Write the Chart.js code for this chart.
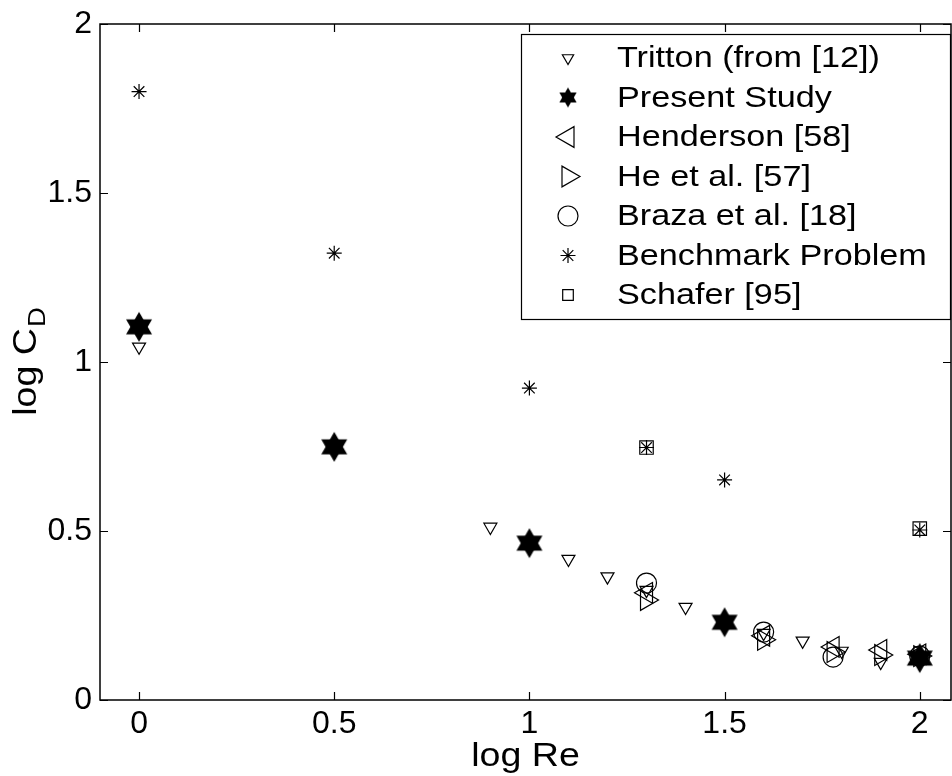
<!DOCTYPE html>
<html>
<head>
<meta charset="utf-8">
<script src="https://cdn.jsdelivr.net/npm/chart.js@4/dist/chart.umd.min.js"></script>
<style>
  html, body { margin: 0; padding: 0; background: #fff; }
  canvas { display: block; }
</style>
</head>
<body>
<canvas id="cd-chart" width="952" height="776"></canvas>
<script>
// data (log Re, log CD)
const trittonX = [0, 0.9, 1.1, 1.2, 1.3, 1.4, 1.6, 1.7, 1.8, 1.9]
const trittonY = [1.045, 0.512, 0.417, 0.365, 0.325, 0.275, 0.198, 0.175, 0.145, 0.112]

const presentX = [0, 0.5, 1, 1.5, 2]
const presentY = [1.104, 0.749, 0.464, 0.23, 0.124]

const hendersonX = [1.3, 1.6, 1.778, 1.9, 2]
const hendersonY = [0.317, 0.19, 0.157, 0.148, 0.135]

const heX = [1.3, 1.6, 1.778, 1.9, 2]
const heY = [0.296, 0.178, 0.142, 0.133, 0.13]

const brazaX = [1.3, 1.6, 1.778, 2]
const brazaY = [0.346, 0.201, 0.127, 0.13]

const benchmarkX = [0, 0.5, 1, 1.3, 1.5, 2]
const benchmarkY = [1.8, 1.322, 0.923, 0.747, 0.651, 0.503]

const schaferX = [1.3, 2]
const schaferY = [0.747, 0.507]

const xTicks = [0, 0.5, 1, 1.5, 2]
const yTicks = [0, 0.5, 1, 1.5, 2]

const FONT = "'Liberation Sans', Arial, Helvetica, sans-serif"
const WIDEN = 1.14 // the scanned lettering is wider than Liberation Sans

// filled six pointed star, drawn into a small canvas to use as pointStyle
function hexagram(r) {
	const c = document.createElement('canvas')
	const w = Math.ceil(r * 2 + 2)
	c.width = w
	c.height = w
	const g = c.getContext('2d')
	g.fillStyle = '#000'
	for (let k = 0; k < 2; k++) {
		g.beginPath()
		for (let i = 0; i < 3; i++) {
			const a = (k * Math.PI) / 3 + (i * 2 * Math.PI) / 3 - Math.PI / 2
			const px = w / 2 + r * Math.cos(a)
			const py = w / 2 + r * Math.sin(a)
			if (i === 0) g.moveTo(px, py)
			else g.lineTo(px, py)
		}
		g.closePath()
		g.fill()
	}
	return c
}
const starBig = hexagram(15)
const starSmall = hexagram(10)

function pts(xs, ys) {
	return xs.map((x, i) => ({ x: x, y: ys[i] }))
}

const hollow = 'rgba(0,0,0,0)'

const series = [
	{ label: 'Tritton (from [12])', data: pts(trittonX, trittonY), pointStyle: 'triangle', rotation: 180, pointRadius: 7.5, legendRadius: 6.5 },
	{ label: 'Present Study', data: pts(presentX, presentY), pointStyle: starBig, rotation: 0, pointRadius: 15, legendStyle: starSmall, order: 0 },
	{ label: 'Henderson [58]', data: pts(hendersonX, hendersonY), pointStyle: 'triangle', rotation: 270, pointRadius: 12, legendRadius: 12 },
	{ label: 'He et al. [57]', data: pts(heX, heY), pointStyle: 'triangle', rotation: 90, pointRadius: 12, legendRadius: 12 },
	{ label: 'Braza et al. [18]', data: pts(brazaX, brazaY), pointStyle: 'circle', rotation: 0, pointRadius: 10, legendRadius: 10 },
	{ label: 'Benchmark Problem', data: pts(benchmarkX, benchmarkY), pointStyle: 'star', rotation: 0, pointRadius: 7.5, legendRadius: 7.5 },
	{ label: 'Schafer [95]', data: pts(schaferX, schaferY), pointStyle: 'rect', rotation: 0, pointRadius: 9.5, legendRadius: 7.5 },
]

// text stretched sideways a little to match the scan
function wideText(ctx, text, x, y, align) {
	const w = ctx.measureText(text).width * WIDEN
	let x0 = x
	if (align === 'center') x0 = x - w / 2
	ctx.save()
	ctx.translate(x0, y)
	ctx.scale(WIDEN, 1)
	ctx.textAlign = 'left'
	ctx.fillText(text, 0, 0)
	ctx.restore()
	return w
}

// box, inward ticks, axis titles and the legend
const framePlugin = {
	id: 'frame',
	afterDraw(chart) {
		const { ctx, chartArea: a, scales } = chart
		ctx.save()
		ctx.strokeStyle = '#000'
		ctx.lineWidth = 1.5
		ctx.strokeRect(a.left, a.top, a.right - a.left, a.bottom - a.top)

		ctx.lineWidth = 1.2
		ctx.beginPath()
		xTicks.forEach((v) => {
			const px = Math.round(scales.x.getPixelForValue(v)) + 0.5
			ctx.moveTo(px, a.bottom)
			ctx.lineTo(px, a.bottom - 8)
			ctx.moveTo(px, a.top)
			ctx.lineTo(px, a.top + 8)
		})
		yTicks.forEach((v) => {
			const py = Math.round(scales.y.getPixelForValue(v)) + 0.5
			ctx.moveTo(a.left, py)
			ctx.lineTo(a.left + 8, py)
			ctx.moveTo(a.right, py)
			ctx.lineTo(a.right - 8, py)
		})
		ctx.stroke()

		ctx.fillStyle = '#000'
		ctx.textBaseline = 'alphabetic'

		// x axis title
		ctx.font = '33px ' + FONT
		wideText(ctx, 'log Re', (a.left + a.right) / 2, 766, 'center')

		// y axis title: log C with subscript D
		ctx.save()
		ctx.translate(36, (a.top + a.bottom) / 2)
		ctx.rotate(-Math.PI / 2)
		ctx.font = '33px ' + FONT
		const wMain = ctx.measureText('log C').width * WIDEN
		ctx.font = '24px ' + FONT
		const wSub = ctx.measureText('D').width * WIDEN
		const x0 = -(wMain + wSub) / 2
		ctx.font = '33px ' + FONT
		wideText(ctx, 'log C', x0, 0, 'left')
		ctx.font = '24px ' + FONT
		wideText(ctx, 'D', x0 + wMain + 1, 9, 'left')
		ctx.restore()

		// legend
		const box = { left: 521, top: 34, right: 951, bottom: 320 }
		ctx.fillStyle = '#fff'
		ctx.fillRect(box.left, box.top, box.right - box.left, box.bottom - box.top)
		ctx.lineWidth = 1.2
		ctx.strokeStyle = '#000'
		ctx.strokeRect(box.left + 0.5, box.top + 0.5, box.right - box.left - 1, box.bottom - box.top - 1)
		const rowH = 39.5
		series.forEach((s, i) => {
			const y = 58 + i * rowH
			ctx.strokeStyle = '#000'
			ctx.fillStyle = hollow
			ctx.lineWidth = 1.2
			Chart.helpers.drawPoint(ctx, {
				pointStyle: s.legendStyle || s.pointStyle,
				radius: s.legendRadius || s.pointRadius,
				rotation: s.rotation,
				borderWidth: 1.2,
			}, 568, y)
			ctx.fillStyle = '#000'
			ctx.font = '30px ' + FONT
			ctx.textBaseline = 'middle'
			wideText(ctx, s.label, 617, y + 1, 'left')
		})
		ctx.restore()
	},
}

const ctx = document.getElementById('cd-chart').getContext('2d')
new Chart(ctx, {
	type: 'scatter',
	data: {
		datasets: series.map((s) => ({
			label: s.label,
			data: s.data,
			pointStyle: s.pointStyle,
			rotation: s.rotation,
			pointRadius: s.pointRadius,
			pointHoverRadius: s.pointRadius,
			borderColor: '#000',
			backgroundColor: hollow,
			borderWidth: 1.2,
			order: s.order === undefined ? 1 : s.order,
			clip: false,
		})),
	},
	options: {
		responsive: false,
		animation: false,
		events: [],
		layout: { autoPadding: false, padding: { top: 24, right: 1, left: 0, bottom: 0 } },
		plugins: { legend: { display: false }, tooltip: { enabled: false } },
		scales: {
			x: {
				type: 'linear',
				min: -0.1,
				max: 2.08,
				afterBuildTicks: (scale) => {
					scale.ticks = xTicks.map((v) => ({ value: v }))
				},
				afterFit: (scale) => {
					scale.height = 76
					scale.paddingLeft = 0
					scale.paddingRight = 0
				},
				grid: { display: false, drawTicks: false },
				border: { display: false },
				ticks: {
					color: '#000',
					font: { family: FONT, size: 32 },
					padding: 5,
					maxRotation: 0,
					callback: (v) => String(v),
				},
			},
			y: {
				type: 'linear',
				min: 0,
				max: 2,
				afterBuildTicks: (scale) => {
					scale.ticks = yTicks.map((v) => ({ value: v }))
				},
				afterFit: (scale) => {
					scale.width = 100
					scale.paddingTop = 0
					scale.paddingBottom = 0
				},
				grid: { display: false, drawTicks: false },
				border: { display: false },
				ticks: {
					color: '#000',
					font: { family: FONT, size: 32 },
					padding: 8,
					callback: (v) => String(v),
				},
			},
		},
	},
	plugins: [framePlugin],
})
</script>
</body>
</html>
